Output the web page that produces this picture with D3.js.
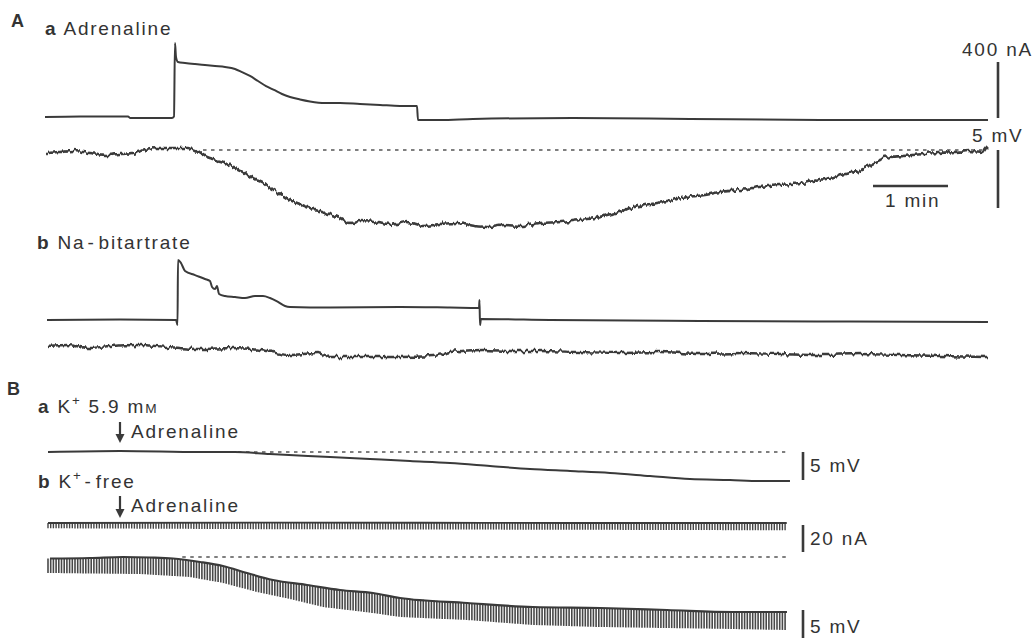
<!DOCTYPE html>
<html>
<head>
<meta charset="utf-8">
<script src="https://cdn.jsdelivr.net/npm/d3@7"></script>
<style>
  html, body { margin: 0; padding: 0; background: #fff; }
  svg { display: block; }
  text { font-family: "Liberation Sans", Arial, sans-serif; fill: #333; }
</style>
</head>
<body>
<svg id="fig" width="1033" height="639"></svg>
<script>
// ---------- Recorded traces: time in min, current in nA, potential in mV ----------

// A a: Adrenaline — clamp current
const aaCurrentT = [0, 0.467, 1.107, 1.133, 1.693, 1.72, 1.733, 1.747, 1.773, 1.867, 2.0, 2.133, 2.267, 2.4, 2.533, 2.627, 2.733, 2.84, 2.947, 3.053, 3.16, 3.267, 3.4, 3.533, 3.733, 3.933, 4.2, 4.467, 4.733, 4.96, 4.973, 5.267, 5.707, 7.04, 8.6, 10.333, 12.573];
const aaCurrent  = [0, 4, 4, -7, -7, 4, 528, 428, 393, 386, 378, 371, 364, 357, 343, 321, 293, 257, 221, 193, 164, 143, 125, 111, 100, 100, 93, 86, 79, 79, -21, -21, -14, -7, -14, -21, -21];

// A a: membrane potential (relative to resting level)
const aaVoltT = [0.027, 0.2, 0.373, 0.6, 0.827, 1.0, 1.173, 1.333, 1.493, 1.667, 1.893, 2.027, 2.16, 2.293, 2.427, 2.6, 2.827, 2.933, 3.04, 3.16, 3.267, 3.4, 3.493, 3.6, 3.707, 3.827, 3.933, 4.067, 4.2, 4.373, 4.6, 4.827, 5.04, 5.267, 5.493, 5.733, 5.933, 6.133, 6.333, 6.6, 6.867, 7.133, 7.333, 7.493, 7.667, 7.8, 8.0, 8.16, 8.36, 8.56, 8.8, 9.0, 9.267, 9.533, 9.8, 10.067, 10.333, 10.56, 10.773, 11.0, 11.133, 11.267, 11.44, 11.573, 11.733, 11.893, 12.133, 12.333, 12.507, 12.547, 12.573];
const aaVolt  = [-0.26, -0.17, -0.09, -0.26, -0.43, -0.34, -0.26, 0, 0.17, 0.17, 0.17, -0.09, -0.6, -0.86, -1.12, -1.72, -2.59, -2.93, -3.45, -3.88, -4.31, -4.66, -4.91, -5.17, -5.34, -5.6, -5.86, -6.29, -6.12, -6.21, -6.47, -6.21, -6.55, -6.38, -6.29, -6.55, -6.64, -6.47, -6.55, -6.29, -6.21, -6.03, -5.86, -5.6, -5.34, -5.0, -4.74, -4.57, -4.31, -4.05, -3.88, -3.62, -3.45, -3.19, -3.02, -2.84, -2.59, -2.24, -1.9, -1.29, -0.86, -0.6, -0.52, -0.43, -0.34, -0.26, -0.17, -0.09, -0.17, 0.17, 0.34];

// A b: Na-bitartrate — clamp current
const abCurrentT = [0.027, 1.0, 1.747, 1.767, 1.773, 1.813, 1.867, 2.0, 2.133, 2.2, 2.227, 2.267, 2.293, 2.32, 2.4, 2.533, 2.667, 2.8, 2.907, 3.0, 3.107, 3.2, 3.267, 3.8, 4.733, 5.4, 5.787, 5.793, 5.8, 5.813, 6.733, 8.733, 10.733, 12.573];
const abCurrent  = [0, 4, 0, -36, 428, 407, 350, 321, 293, 278, 236, 221, 243, 186, 171, 164, 157, 171, 171, 157, 129, 100, 93, 89, 93, 89, 86, 143, -36, 7, 0, -7, -11, -14];

// A b: membrane potential
const abVoltT = [0.04, 0.293, 0.6, 0.867, 1.267, 1.627, 2.067, 2.507, 2.96, 3.267, 3.627, 3.8, 4.293, 4.733, 5.173, 5.4, 5.84, 6.24, 6.6, 7.133, 7.667, 8.2, 8.733, 9.267, 9.8, 10.333, 10.867, 11.4, 11.933, 12.573];
const abVolt  = [0, 0.09, -0.17, 0, 0.09, -0.09, -0.26, -0.17, -0.43, -0.78, -0.6, -0.95, -0.95, -0.95, -0.86, -0.52, -0.34, -0.43, -0.43, -0.52, -0.6, -0.52, -0.69, -0.6, -0.69, -0.78, -0.69, -0.78, -0.86, -0.95];

// B a: K+ 5.9 mM — membrane potential
const baVoltT = [0, 0.96, 2.027, 2.493, 2.96, 3.76, 4.293, 4.827, 5.36, 5.893, 6.427, 6.96, 7.493, 8.027, 8.56, 9.093, 9.493, 9.893];
const baVolt  = [0, 0.18, 0, 0, -0.36, -0.89, -1.25, -1.61, -1.96, -2.5, -3.04, -3.39, -3.75, -4.29, -4.82, -5.0, -5.18, -5.18];

// B b: K+-free — current during repeated pulses (upper and lower edge)
const bbCurrentT     = [0, 3, 5, 7, 9.85];
const bbCurrentTop   = [0, 0.3, 0.2, 0, 0];
const bbCurrentBot   = [-3.9, -4.6, -4.8, -5.0, -5.4];

// B b: membrane potential during pulses (upper and lower edge)
const bbVoltTopT = [0.027, 0.56, 1.0, 1.36, 1.667, 2.027, 2.333, 2.653, 3.0, 3.453, 3.893, 4.333, 4.693, 5.587, 6.467, 7.36, 8.253, 9.133, 9.853];
const bbVoltTop  = [-0.27, -0.18, 0, -0.09, -0.27, -0.89, -1.61, -2.86, -4.11, -5.0, -5.89, -6.43, -7.32, -8.21, -8.93, -9.11, -9.46, -9.82, -9.82];
const bbVoltBotT = [0.027, 1.227, 1.893, 2.333, 2.787, 3.227, 3.667, 4.333, 4.693, 5.587, 6.467, 7.36, 8.253, 9.133, 9.853];
const bbVoltBot  = [-2.86, -3.04, -3.57, -4.64, -6.25, -7.5, -8.93, -10.0, -10.71, -11.25, -12.14, -12.5, -12.68, -12.86, -13.04];

// Protocol / annotation values
const pulseEvery = 0.036;          // min between test pulses in B b
const adrenalineB = 0.96;          // min, arrow position in B
const restLineA  = [2.107, 12.53]; // dotted resting level, A a
const restLineBa = [2.32, 9.83];
const restLineBb = [1.79, 9.89];

// ---------- Layout ----------
const svg = d3.select("#fig");
const ink = "#3a3a3a";

const xA = d3.scaleLinear().domain([0, 12.6]).range([45, 45 + 12.6 * 75]);
const xB = d3.scaleLinear().domain([0, 9.9]).range([48, 48 + 9.9 * 75]);

const yAaI = d3.scaleLinear().domain([0, 400]).range([117, 61]);
const yAaV = d3.scaleLinear().domain([0, -5]).range([150, 208]);
const yAbI = d3.scaleLinear().domain([0, 400]).range([320, 264]);
const yAbV = d3.scaleLinear().domain([0, -5]).range([346, 404]);
const yBaV = d3.scaleLinear().domain([0, -5]).range([452, 480]);
const yBbI = d3.scaleLinear().domain([0, -20]).range([523, 550]);
const yBbV = d3.scaleLinear().domain([0, -5]).range([557, 585]);

// recorder-pen roughness on the noisy potential traces:
// noise varies along x but hardly along y, so each column shifts as a whole
const defs = svg.append("defs");
const f = defs.append("filter").attr("id", "rough")
  .attr("x", "-2%").attr("y", "-40%").attr("width", "104%").attr("height", "180%");
f.append("feTurbulence").attr("type", "fractalNoise").attr("baseFrequency", "0.3 0.015")
  .attr("numOctaves", 3).attr("seed", 7).attr("result", "n");
f.append("feDisplacementMap").attr("in", "SourceGraphic").attr("in2", "n")
  .attr("scale", 6).attr("xChannelSelector", "B").attr("yChannelSelector", "G");

function trace(ts, vs, x, y, opts = {}) {
  const pts = ts.map((t, i) => [t, vs[i]]);
  const p = svg.append("path")
    .attr("d", d3.line().curve(d3.curveMonotoneX).x(d => x(d[0])).y(d => y(d[1]))(pts))
    .attr("fill", "none")
    .attr("stroke", ink)
    .attr("stroke-width", opts.w || 1.8)
    .attr("stroke-linejoin", "round");
  if (opts.rough) p.attr("filter", "url(#rough)");
  return p;
}

function dotted(range, x, yv) {
  svg.append("line")
    .attr("x1", x(range[0])).attr("x2", x(range[1]))
    .attr("y1", yv).attr("y2", yv)
    .attr("stroke", "#555").attr("stroke-width", 1.5)
    .attr("stroke-dasharray", "3.5,4.5");
}

function vbar(xp, y1, y2) {
  svg.append("line").attr("x1", xp).attr("x2", xp).attr("y1", y1).attr("y2", y2)
    .attr("stroke", ink).attr("stroke-width", 2.6);
}

function label(xp, yp, parts, size = 19, anchor = "start") {
  const t = svg.append("text").attr("x", xp).attr("y", yp)
    .attr("font-size", size).attr("letter-spacing", "1.8px")
    .attr("text-anchor", anchor);
  parts.forEach(p => {
    const s = t.append("tspan").text(p.t);
    if (p.b) s.attr("font-weight", "bold");
    if (p.sup) s.attr("font-size", size * 0.7).attr("dy", -8);
    if (p.down) s.attr("dy", 8);
    if (p.small) s.attr("font-size", size * 0.72);
    if (p.dx) s.attr("dx", p.dx);
  });
  return t;
}

function arrow(xp, y1, y2) {
  svg.append("line").attr("x1", xp).attr("x2", xp).attr("y1", y1).attr("y2", y2 - 6)
    .attr("stroke", ink).attr("stroke-width", 2.2);
  svg.append("path")
    .attr("d", `M${xp - 4.5},${y2 - 9} L${xp + 4.5},${y2 - 9} L${xp},${y2} Z`)
    .attr("fill", ink);
}

// ---------- Panel A ----------
label(11, 27, [{ t: "A", b: true }], 18);
label(45, 35, [{ t: "a", b: true }, { t: " Adrenaline" }]);

trace(aaCurrentT, aaCurrent, xA, yAaI, { w: 2 });
dotted(restLineA, xA, yAaV(0));
trace(aaVoltT, aaVolt, xA, yAaV, { w: 2.6, rough: true });

// scale bars, A
const barX = 998;
vbar(barX, 62, 62 + (yAaI(0) - yAaI(400)));
label(1033, 56, [{ t: "400 nA" }], 19, "end");
vbar(barX, 150, 150 + (yAaV(-5) - yAaV(0)));
label(972, 142, [{ t: "5 mV" }]);
svg.append("line")
  .attr("x1", xA(11.04)).attr("x2", xA(12.04)).attr("y1", 186).attr("y2", 186)
  .attr("stroke", ink).attr("stroke-width", 2.6);
label(885, 207, [{ t: "1 min" }]);

label(37, 249, [{ t: "b", b: true }, { t: " Na" }, { t: "-", dx: 2 }, { t: "bitartrate", dx: 3 }]);
trace(abCurrentT, abCurrent, xA, yAbI, { w: 2 });
trace(abVoltT, abVolt, xA, yAbV, { w: 2.4, rough: true });

// ---------- Panel B ----------
label(7, 395, [{ t: "B", b: true }], 18);
label(38, 413, [{ t: "a", b: true }, { t: " K" }, { t: "+", sup: true }, { t: " 5.9 m", down: true }, { t: "M", small: true }]);
arrow(xB(adrenalineB), 422, 443);
label(131, 438, [{ t: "Adrenaline" }]);
dotted(restLineBa, xB, yBaV(0));
trace(baVoltT, baVolt, xB, yBaV, { w: 2 });

const bBarX = 803;
vbar(bBarX, yBaV(0), yBaV(-5));
label(810, 472, [{ t: "5 mV" }]);

label(38, 488, [{ t: "b", b: true }, { t: " K" }, { t: "+", sup: true }, { t: "-", down: true, dx: 2 }, { t: "free", dx: 3 }]);
arrow(xB(adrenalineB), 496, 518);
label(131, 512, [{ t: "Adrenaline" }]);

// pulse trains, B b
const pulses = d3.range(0, 9.85, pulseEvery);
const iTop = d3.scaleLinear().domain(bbCurrentT).range(bbCurrentTop);
const iBot = d3.scaleLinear().domain(bbCurrentT).range(bbCurrentBot);
svg.append("g").selectAll("line").data(pulses).join("line")
  .attr("x1", d => xB(d)).attr("x2", d => xB(d))
  .attr("y1", d => yBbI(iTop(d))).attr("y2", d => yBbI(iBot(d)))
  .attr("stroke", "#444").attr("stroke-width", 1.4);
trace(bbCurrentT, bbCurrentTop, xB, yBbI, { w: 1.8 });
vbar(bBarX, 525, 525 + (yBbI(-20) - yBbI(0)));
label(810, 545, [{ t: "20 nA" }]);

dotted(restLineBb, xB, yBbV(0));
const vTop = d3.scaleLinear().domain(bbVoltTopT).range(bbVoltTop);
const vBot = d3.scaleLinear().domain(bbVoltBotT).range(bbVoltBot);
svg.append("g").selectAll("line").data(pulses).join("line")
  .attr("x1", d => xB(d)).attr("x2", d => xB(d))
  .attr("y1", d => yBbV(vTop(d))).attr("y2", d => yBbV(vBot(d)))
  .attr("stroke", "#484848").attr("stroke-width", 1.6);
trace(bbVoltTopT, bbVoltTop, xB, yBbV, { w: 2.2 });
vbar(bBarX, 610, 610 + (yBbV(-5) - yBbV(0)));
label(810, 633, [{ t: "5 mV" }]);
</script>
</body>
</html>
